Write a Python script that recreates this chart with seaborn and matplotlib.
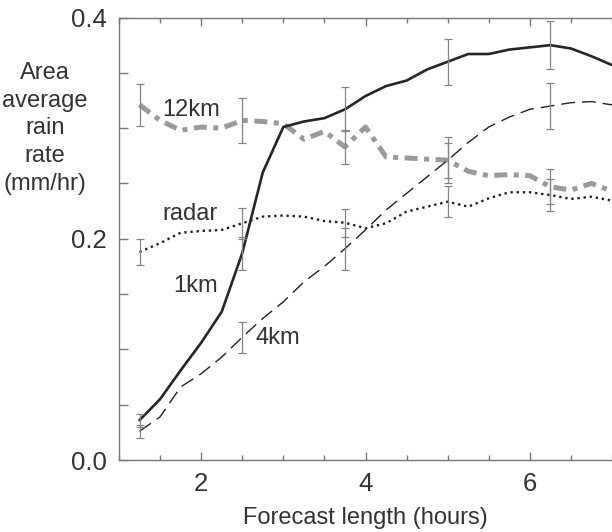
import matplotlib
matplotlib.use("Agg")
import numpy as np
import pandas as pd
import seaborn as sns
import matplotlib.pyplot as plt
from matplotlib.ticker import MultipleLocator, FixedLocator

# ---- data ----
hours = [1.25, 1.5, 1.75, 2.0, 2.25, 2.5, 2.75, 3.0, 3.25, 3.5, 3.75, 4.0,
         4.25, 4.5, 4.75, 5.0, 5.25, 5.5, 5.75, 6.0, 6.25, 6.5, 6.75, 7.0]
rain_1km = [0.036, 0.055, 0.081, 0.106, 0.134, 0.187, 0.260, 0.301, 0.306, 0.309,
            0.317, 0.329, 0.338, 0.343, 0.353, 0.360, 0.367, 0.367, 0.371, 0.373,
            0.375, 0.372, 0.365, 0.357]
rain_4km = [0.026, 0.039, 0.066, 0.078, 0.093, 0.111, 0.128, 0.143, 0.161, 0.175,
            0.191, 0.208, 0.226, 0.241, 0.256, 0.271, 0.287, 0.301, 0.310, 0.317,
            0.320, 0.323, 0.324, 0.321]
rain_12km = [0.321, 0.307, 0.298, 0.301, 0.300, 0.307, 0.306, 0.304, 0.290, 0.297,
             0.283, 0.301, 0.274, 0.273, 0.272, 0.271, 0.261, 0.257, 0.258, 0.257,
             0.247, 0.244, 0.250, 0.243]
rain_radar = [0.188, 0.196, 0.2055, 0.207, 0.208, 0.214, 0.220, 0.221, 0.220, 0.216,
              0.2145, 0.2095, 0.214, 0.2245, 0.229, 0.2335, 0.229, 0.2365, 0.242, 0.242,
              0.2395, 0.236, 0.238, 0.2345]

err_hours = [1.25, 2.5, 3.75, 5.0, 6.25]
err_1km = [0.006, 0.015, 0.020, 0.021, 0.022]
err_4km = [0.006, 0.014, 0.019, 0.021, 0.021]
err_12km = [0.019, 0.020, 0.015, 0.016, 0.016]
err_radar = [0.012, 0.014, 0.0125, 0.014, 0.0145]

series_names = ["12km", "radar", "4km", "1km"]
label_pos = {"12km": (1.88, 0.316), "radar": (1.86, 0.2225),
             "1km": (1.93, 0.157), "4km": (2.93, 0.110)}

x_ticks = [2, 4, 6]
y_ticks = [0.0, 0.2, 0.4]
y_ticklabels = ["0.0", "0.2", "0.4"]
xlabel = "Forecast length (hours)"
ylabel = "Area\naverage\nrain\nrate\n(mm/hr)"

values = {"1km": rain_1km, "4km": rain_4km, "12km": rain_12km, "radar": rain_radar}
errors = {"1km": err_1km, "4km": err_4km, "12km": err_12km, "radar": err_radar}

df = pd.concat([pd.DataFrame({"hours": hours, "rain": values[s], "series": s})
                for s in series_names], ignore_index=True)

# ---- style ----
sns.set_style("ticks")
plt.rcParams["font.family"] = ["Liberation Sans", "DejaVu Sans"]
TXT = "#333333"
AX = "#777777"

fig = plt.figure(figsize=(6.12, 5.32), dpi=100)
ax = fig.add_axes([119 / 612, 72 / 532, (612 - 119) / 612, (460 - 17.5) / 532])

palette = {"12km": "#9a9a9a", "radar": "#222222", "4km": "#222222", "1km": "#262626"}
sizes = {"12km": 3.6, "radar": 1.7, "4km": 1.0, "1km": 1.9}
dashes = {"12km": (2.6, 1.3, 1.0, 1.3), "radar": (1.0, 1.6), "4km": (10, 5), "1km": ""}

sns.lineplot(data=df, x="hours", y="rain", hue="series", style="series", size="series",
             hue_order=series_names, style_order=series_names, size_order=series_names,
             palette=palette, sizes=sizes, dashes=dashes, legend=False, ax=ax, zorder=2)

idx = [hours.index(h) for h in err_hours]
for s in series_names:
    ax.errorbar(err_hours, [values[s][i] for i in idx], yerr=errors[s], fmt="none",
                ecolor="#858585", elinewidth=0.9, capsize=3.2, capthick=0.9, zorder=3)

for s, (lx, ly) in label_pos.items():
    ax.text(lx, ly, s, ha="center", va="center", fontsize=17, color=TXT)

ax.set_xlim(1.0, 7.0)
ax.set_ylim(0.0, 0.4)
ax.xaxis.set_major_locator(FixedLocator(x_ticks))
ax.xaxis.set_minor_locator(MultipleLocator(0.5))
ax.yaxis.set_major_locator(FixedLocator(y_ticks))
ax.yaxis.set_minor_locator(MultipleLocator(0.05))
ax.set_yticklabels(y_ticklabels)

ax.tick_params(axis="both", which="both", direction="in", colors=AX, labelcolor=TXT,
               labelsize=18.5, pad=8.5, width=1.0)
ax.tick_params(axis="x", which="both", top=True)
ax.tick_params(axis="x", which="major", length=6)
ax.tick_params(axis="x", which="minor", length=3.6)
ax.tick_params(axis="y", which="both", length=6.5, right=False)

for side in ["left", "bottom", "top"]:
    ax.spines[side].set_color(AX)
    ax.spines[side].set_linewidth(1.0)
    ax.spines[side].set_visible(True)
ax.spines["right"].set_visible(False)

ax.set_xlabel(xlabel, fontsize=17, color=TXT, labelpad=8)
ax.set_ylabel("")
fig.text(45 / 612, 1 - 128.5 / 532, ylabel, ha="center", va="center",
         multialignment="center", fontsize=17, color=TXT, linespacing=1.33)

fig.savefig("out.png", dpi=100)
